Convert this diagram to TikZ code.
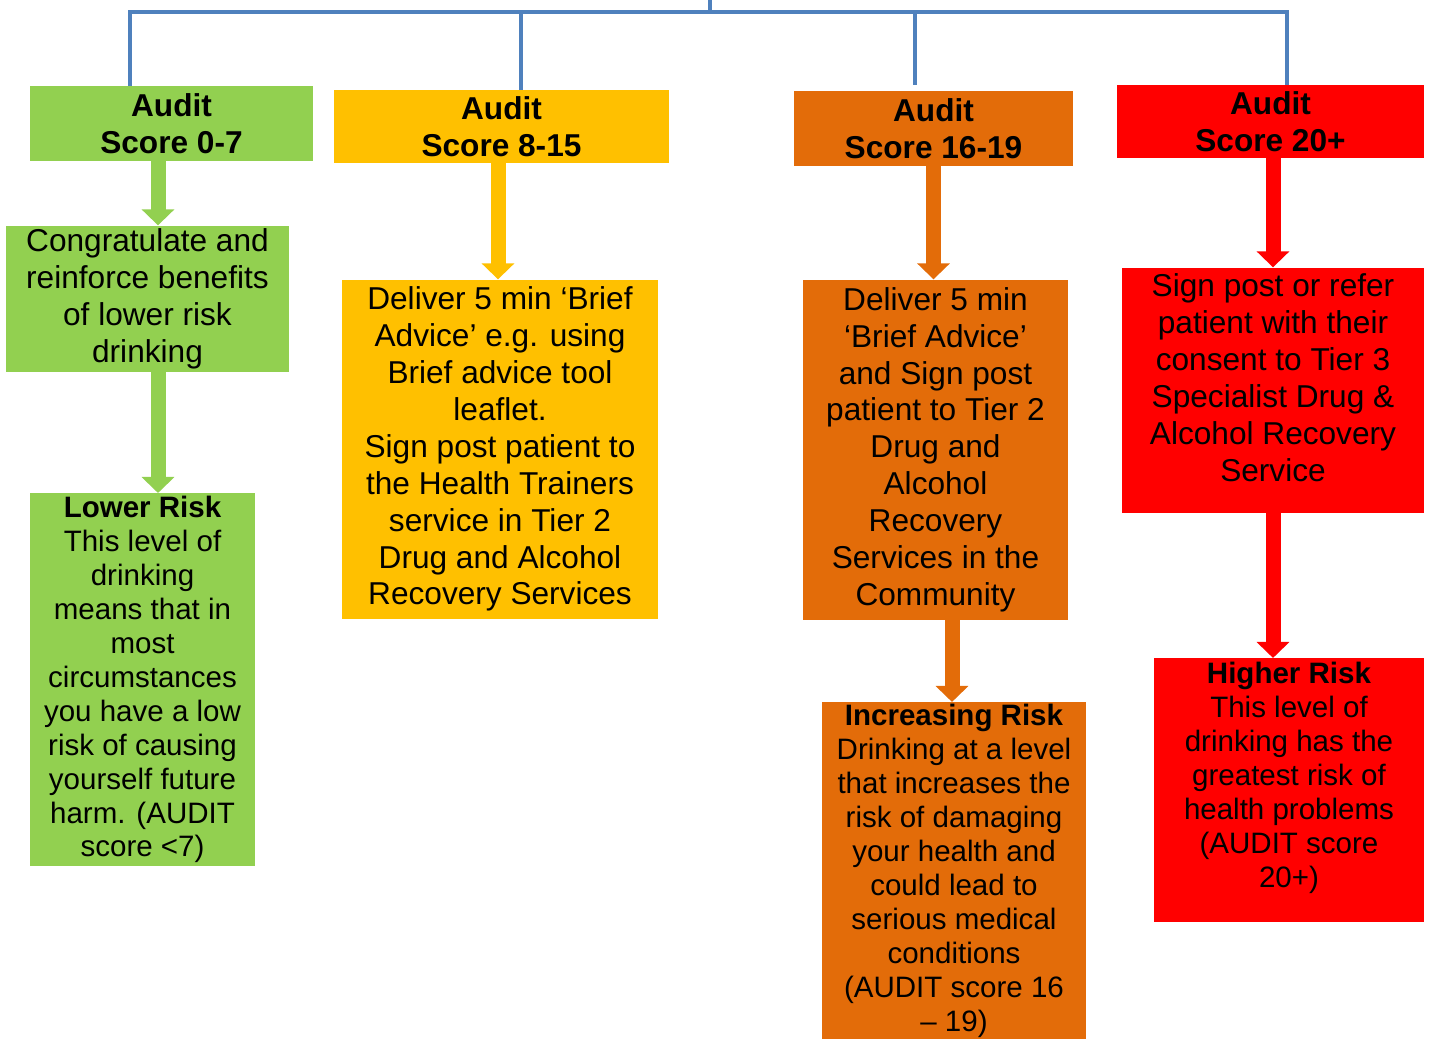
\documentclass[tikz,border=0pt]{standalone}
\usepackage{fontspec}
\setmainfont{Liberation Sans}
\usepackage{tikz}
\usetikzlibrary{positioning, arrows.meta}
\definecolor{linkBlue}{HTML}{4F81BD}
\definecolor{lowGreen}{HTML}{92D050}
\definecolor{midYellow}{HTML}{FFC000}
\definecolor{incOrange}{HTML}{E36C09}
\definecolor{highRed}{HTML}{FF0000}

\begin{document}
\begin{tikzpicture}[x=0.02cm, y=-0.02cm, every node/.style={align=center, inner sep=1pt},
  bigtext/.style={font=\fontsize{18}{21}\selectfont},
  smalltext/.style={font=\fontsize{16.8}{19.3}\selectfont},
  headbox/.style={font=\fontsize{18}{21}\selectfont\bfseries},
  link/.style={draw=linkBlue, line width=0.08cm},
  flow/.style={line width=0.3cm, -{Triangle[width=0.64cm, length=0.32cm]}}]
  \useasboundingbox (0,0) rectangle (1430,1039);
  % score headers
  \node[headbox, fill=lowGreen, minimum width=5.66cm, minimum height=1.5cm] (g1) at (171.5,123.5) {Audit\\Score 0-7};
  \node[headbox, fill=midYellow, minimum width=6.7cm, minimum height=1.46cm] (y1) at (501.5,126.5) {Audit\\Score 8-15};
  \node[headbox, fill=incOrange, minimum width=5.58cm, minimum height=1.5cm] (o1) at (933.5,128.5) {Audit\\Score 16-19};
  \node[headbox, fill=highRed, minimum width=6.14cm, minimum height=1.46cm] (r1) at (1270.5,121.5) {Audit\\Score 20+};
  % green column
  \node[bigtext, fill=lowGreen, minimum width=5.66cm, minimum height=2.92cm, below=1.28cm of g1, xshift=-0.48cm] (g2) {Congratulate and\\reinforce benefits\\of lower risk\\drinking};
  \node[smalltext, fill=lowGreen, minimum width=4.5cm, minimum height=7.46cm, below=2.42cm of g2, xshift=-0.1cm] (g3) {\textbf{Lower Risk}\\This level of\\drinking\\means that in\\most\\circumstances\\you have a low\\risk of causing\\yourself future\\harm. (AUDIT\\score <7)};
  % yellow column
  \node[bigtext, fill=midYellow, minimum width=6.32cm, minimum height=6.78cm, below=2.32cm of y1, xshift=-0.03cm] (y2) {Deliver 5 min ‘Brief\\Advice’ e.g. using\\Brief advice tool\\leaflet.\\Sign post patient to\\the Health Trainers\\service in Tier 2\\Drug and Alcohol\\Recovery Services};
  % orange column
  \node[bigtext, fill=incOrange, minimum width=5.3cm, minimum height=6.8cm, below=2.26cm of o1, xshift=0.04cm] (o2) {Deliver 5 min\\‘Brief Advice’\\and Sign post\\patient to Tier 2\\Drug and\\Alcohol\\Recovery\\Services in the\\Community};
  \node[smalltext, fill=incOrange, minimum width=5.28cm, minimum height=6.74cm, below=1.64cm of o2, xshift=0.37cm] (o3) {\textbf{Increasing Risk}\\Drinking at a level\\that increases the\\risk of damaging\\your health and\\could lead to\\serious medical\\conditions\\(AUDIT score 16\\– 19)};
  % red column
  \node[fill=highRed, minimum width=6.04cm, minimum height=4.9cm, below=2.18cm of r1, xshift=0.05cm] (r2) {};
  \node[bigtext] (r2text) at ([yshift=0.25cm]r2.center) {Sign post or refer\\patient with their\\consent to Tier 3\\Specialist Drug \&\\Alcohol Recovery\\Service};
  \node[fill=highRed, minimum width=5.4cm, minimum height=5.28cm, below=2.9cm of r2, xshift=0.32cm] (r3) {};
  \node[smalltext] (r3text) at ([yshift=0.25cm]r3.center) {\textbf{Higher Risk}\\This level of\\drinking has the\\greatest risk of\\health problems\\(AUDIT score\\20+)};

  % top bracket
  \coordinate (top) at (710,0);
  \coordinate (bar) at (710,12);
  \coordinate (ylane) at ([xshift=0.39cm]y1.north);
  \coordinate (olane) at ([xshift=-0.37cm, yshift=0.12cm]o1.north);
  \draw[link] (top) -- (bar);
  \draw[link] ([xshift=-0.83cm]g1.north) |- (bar) -| ([xshift=0.33cm]r1.north);
  \draw[link] (ylane) -- (ylane |- bar);
  \draw[link] (olane) -- (olane |- bar);

  % flow arrows
  \coordinate (ga) at ([xshift=-0.27cm]g1.south);
  \coordinate (ya) at ([xshift=-0.07cm]y1.south);
  \coordinate (oa) at ([xshift=0.33cm]o2.south);
  \draw[flow, lowGreen] (ga) -- (ga |- g2.north);
  \draw[flow, lowGreen] (ga |- g2.south) -- (ga |- g3.north);
  \draw[flow, midYellow] (ya) -- (ya |- y2.north);
  \draw[flow, incOrange] (o1.south) -- (o1.south |- o2.north);
  \draw[flow, incOrange] (oa) -- (oa |- o3.north);
  \draw[flow, highRed] (r1.south -| r2.north) -- (r2.north);
  \draw[flow, highRed] (r2.south) -- (r2.south |- r3.north);
\end{tikzpicture}
\end{document}
